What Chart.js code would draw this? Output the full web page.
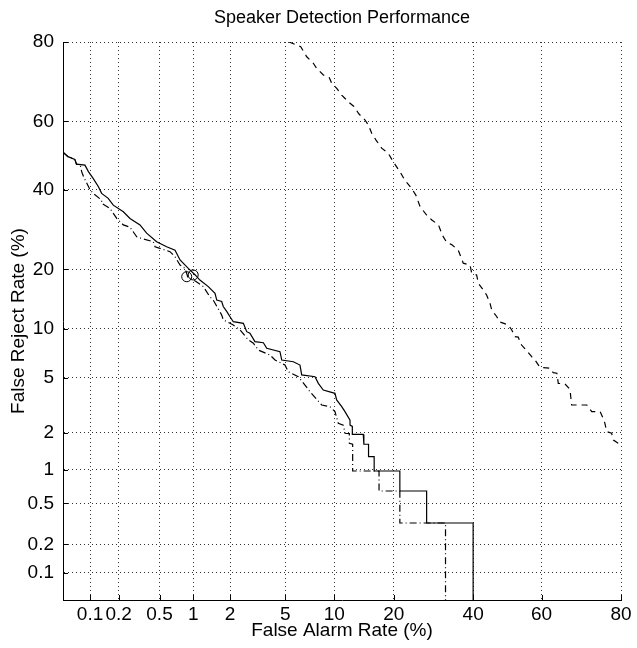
<!DOCTYPE html>
<html>
<head>
<meta charset="utf-8">
<title>Speaker Detection Performance</title>
<script src="https://cdn.jsdelivr.net/npm/chart.js@4/dist/chart.umd.min.js"></script>
<style>
  body { margin: 0; background: #fff; }
  #wrap { width: 637px; height: 648px; }
</style>
</head>
<body>
<div id="wrap"><canvas id="detChart" width="637" height="648"></canvas></div>
<script>
'use strict';

// axis ticks (percent)
let tickValues = [0.1, 0.2, 0.5, 1, 2, 5, 10, 20, 40, 60, 80];
let tickLabels = ['0.1', '0.2', '0.5', '1', '2', '5', '10', '20', '40', '60', '80'];
let axisMin = 0.05;
let axisMax = 80;

// solid curve: false alarm % / false reject %
let solidFa = [0.05, 0.057, 0.068, 0.071, 0.088, 0.096, 0.108, 0.123, 0.133, 0.156, 0.176, 0.223, 0.26, 0.326, 0.378, 0.47, 0.582, 0.693, 0.768, 0.907, 1.04, 1.14, 1.34, 1.52, 1.57, 1.72, 1.77, 1.89, 2.0, 2.12, 2.53, 2.68, 2.83, 3.08, 3.54, 3.74, 4.61, 4.74, 5.65, 6.23, 6.39, 7.72, 8.08, 8.64, 10.09, 10.31, 11.0, 11.46, 12.2, 12.2, 12.55, 12.55, 14.3, 14.4, 15.2, 15.2, 16.2, 16.2, 21.3, 21.3, 27.5, 27.5, 40, 40];
let solidFr = [51, 49.7, 48.9, 47.5, 47.2, 45.3, 43.3, 40.9, 39.0, 37.6, 35.7, 33.9, 32.1, 30.4, 28.3, 26.2, 25.0, 24.2, 22.0, 20.2, 18.85, 17.85, 16.6, 15.4, 14.25, 14.0, 13.2, 12.4, 11.65, 10.94, 10.72, 9.62, 9.42, 8.42, 8.30, 7.69, 7.33, 6.51, 6.35, 6.05, 5.22, 5.08, 4.59, 4.13, 3.92, 3.52, 3.15, 2.90, 2.51, 2.30, 2.25, 1.95, 1.95, 1.63, 1.63, 1.29, 1.29, 0.977, 0.977, 0.651, 0.651, 0.326, 0.326, 0.05];

// dash-dot curve
let dashDotFa = [0.05, 0.057, 0.068, 0.071, 0.078, 0.081, 0.085, 0.100, 0.108, 0.133, 0.133, 0.163, 0.191, 0.223, 0.26, 0.303, 0.338, 0.437, 0.454, 0.624, 0.693, 0.768, 0.85, 0.9, 1.05, 1.22, 1.38, 1.47, 1.72, 1.77, 2.12, 2.39, 2.76, 3.0, 3.26, 3.94, 4.27, 4.98, 5.24, 6.08, 6.70, 7.19, 8.46, 9.46, 10.09, 10.53, 11.22, 11.47, 12.1, 12.1, 12.6, 12.6, 17.1, 17.1, 21.3, 21.3, 32.35, 32.35];
let dashDotFr = [51, 49.7, 48.9, 47.5, 47.3, 45.3, 43.8, 40.0, 39.0, 37.1, 36.2, 34.8, 32.1, 30.4, 29.8, 27.4, 27.0, 26.2, 25.0, 23.85, 22.7, 20.9, 20.2, 18.4, 17.6, 16.6, 14.8, 14.25, 11.9, 11.2, 10.5, 9.84, 8.61, 8.24, 7.50, 6.99, 6.51, 6.05, 5.48, 5.08, 4.47, 4.02, 3.24, 3.15, 2.90, 2.37, 2.30, 1.99, 1.98, 1.66, 1.63, 0.977, 0.977, 0.651, 0.651, 0.326, 0.326, 0.05];

// dashed curve (right)
let dashedFa = [5.3, 6.3, 6.87, 7.54, 7.90, 8.65, 9.37, 9.67, 10.32, 11.0, 11.94, 12.8, 13.6, 14.6, 15.16, 15.76, 16.54, 17.6, 18.9, 19.9, 21.3, 22.4, 23.9, 24.9, 25.9, 27.5, 28.8, 30.5, 31.5, 32.7, 34.0, 35.8, 37.2, 39.1, 39.6, 41.0, 41.5, 42.9, 43.9, 44.9, 45.4, 46.9, 47.6, 50.3, 51.3, 52.3, 53.2, 54.2, 55.7, 57.15, 58.1, 59.55, 62.4, 63.3, 64.3, 64.7, 66.5, 67.85, 68.3, 72.2, 73.4, 75.4, 76.1, 76.5, 76.9, 78.0, 78.4, 79.4, 80];
let dashedFr = [80, 79.0, 76.8, 75.3, 74.1, 72.5, 71.8, 70.4, 69.1, 67.3, 65.5, 64.2, 62.1, 60.4, 59.0, 56.6, 54.6, 52.2, 50.7, 48.2, 45.3, 42.8, 40.45, 38.5, 35.3, 33.0, 31.7, 30.4, 27.8, 26.0, 25.5, 24.2, 21.3, 20.9, 19.2, 18.85, 17.2, 16.0, 15.1, 13.7, 12.65, 11.65, 10.94, 10.49, 9.83, 9.0, 8.95, 8.04, 7.43, 6.83, 6.51, 5.85, 5.77, 5.40, 5.36, 4.59, 4.55, 4.18, 3.24, 3.24, 2.90, 2.90, 2.59, 2.37, 2.05, 1.99, 1.76, 1.66, 1.61];

// operating point markers
let markerFa = [0.879, 1.0];
let markerFr = [18.5, 18.85];

// inverse normal cdf (Acklam)
function probit(p) {
  let a = [-3.969683028665376e+01, 2.209460984245205e+02, -2.759285104469687e+02, 1.383577518672690e+02, -3.066479806614716e+01, 2.506628277459239e+00];
  let b = [-5.447609879822406e+01, 1.615858368580409e+02, -1.556989798598866e+02, 6.680131188771972e+01, -1.328068155288572e+01];
  let c = [-7.784894002430293e-03, -3.223964580411365e-01, -2.400758277161838e+00, -2.549732539343734e+00, 4.374664141464968e+00, 2.938163982698783e+00];
  let d = [7.784695709041462e-03, 3.224671290700398e-01, 2.445134137142996e+00, 3.754408661907416e+00];
  let pl = 0.02425;
  if (p < pl) {
    let q = Math.sqrt(-2 * Math.log(p));
    return (((((c[0] * q + c[1]) * q + c[2]) * q + c[3]) * q + c[4]) * q + c[5]) / ((((d[0] * q + d[1]) * q + d[2]) * q + d[3]) * q + 1);
  }
  if (p > 1 - pl) {
    let q = Math.sqrt(-2 * Math.log(1 - p));
    return -(((((c[0] * q + c[1]) * q + c[2]) * q + c[3]) * q + c[4]) * q + c[5]) / ((((d[0] * q + d[1]) * q + d[2]) * q + d[3]) * q + 1);
  }
  let q = p - 0.5;
  let r = q * q;
  return (((((a[0] * r + a[1]) * r + a[2]) * r + a[3]) * r + a[4]) * r + a[5]) * q / (((((b[0] * r + b[1]) * r + b[2]) * r + b[3]) * r + b[4]) * r + 1);
}

function toPoints(fa, fr) {
  let pts = [];
  for (let i = 0; i < fa.length; i++) {
    pts.push({ x: probit(fa[i] / 100), y: probit(fr[i] / 100) });
  }
  return pts;
}

let fontFamily = "'Liberation Sans', Arial, Helvetica, sans-serif";

// title centred over the plot area + inward tick marks like matlab
let detDecor = {
  id: 'detDecor',
  afterDraw(chart) {
    let ctx = chart.ctx;
    let area = chart.chartArea;
    ctx.save();
    ctx.strokeStyle = '#000';
    ctx.lineWidth = 1;
    ctx.beginPath();
    chart.scales.x.ticks.forEach(function (t) {
      let px = Math.round(chart.scales.x.getPixelForValue(t.value)) + 0.5;
      ctx.moveTo(px, area.bottom);
      ctx.lineTo(px, area.bottom - 5);
    });
    chart.scales.y.ticks.forEach(function (t) {
      let py = Math.round(chart.scales.y.getPixelForValue(t.value)) + 0.5;
      ctx.moveTo(area.left, py);
      ctx.lineTo(area.left + 5, py);
    });
    ctx.stroke();
    ctx.fillStyle = '#000';
    ctx.font = '18px ' + fontFamily;
    ctx.textAlign = 'center';
    ctx.textBaseline = 'middle';
    ctx.fillText('Speaker Detection Performance', (area.left + area.right) / 2, 18.5);
    ctx.restore();
  }
};

function axisOptions(titleText, isX) {
  return {
    type: 'linear',
    min: probit(axisMin / 100),
    max: probit(axisMax / 100),
    afterBuildTicks: function (scale) {
      scale.ticks = tickValues.map(v => ({ value: probit(v / 100) }));
    },
    afterFit: function (scale) {
      if (isX) {
        scale.height = 48;
      } else {
        scale.width = 63;
      }
    },
    ticks: {
      autoSkip: false,
      maxRotation: 0,
      padding: isX ? 3 : 9,
      color: '#000',
      font: { family: fontFamily, size: 19 },
      callback: (value, index) => tickLabels[index]
    },
    grid: {
      color: 'rgba(0,0,0,0.8)',
      lineWidth: 1,
      drawTicks: false
    },
    border: {
      display: true,
      color: '#000',
      width: 1,
      dash: [1, 3]
    },
    title: {
      display: true,
      text: titleText,
      color: '#000',
      font: { family: fontFamily, size: 19 },
      padding: isX ? { top: 0, bottom: 6 } : { top: 7, bottom: 0 }
    }
  };
}

let ctx = document.getElementById('detChart').getContext('2d');
let detChart = new Chart(ctx, {
  type: 'line',
  data: {
    datasets: [{
      label: 'system A',
      data: toPoints(solidFa, solidFr),
      borderColor: '#000',
      borderWidth: 1.2,
      pointRadius: 0,
      fill: false
    }, {
      label: 'system B',
      data: toPoints(dashDotFa, dashDotFr),
      borderColor: '#000',
      borderWidth: 1.2,
      borderDash: [7, 3, 1, 3],
      pointRadius: 0,
      fill: false
    }, {
      label: 'system C',
      data: toPoints(dashedFa, dashedFr),
      borderColor: '#000',
      borderWidth: 1.2,
      borderDash: [6, 5],
      pointRadius: 0,
      fill: false
    }, {
      label: 'operating points',
      data: toPoints(markerFa, markerFr),
      showLine: false,
      pointStyle: 'circle',
      pointRadius: 5,
      pointBorderColor: '#000',
      pointBackgroundColor: 'rgba(0,0,0,0)',
      pointBorderWidth: 1
    }]
  },
  options: {
    responsive: false,
    animation: false,
    layout: { padding: { top: 42, right: 16, left: 0, bottom: 0 } },
    plugins: {
      legend: { display: false },
      tooltip: { enabled: false },
      title: { display: false }
    },
    elements: { line: { tension: 0 } },
    scales: {
      x: axisOptions('False Alarm Rate (%)', true),
      y: axisOptions('False Reject Rate (%)', false)
    }
  },
  plugins: [detDecor]
});
</script>
</body>
</html>
